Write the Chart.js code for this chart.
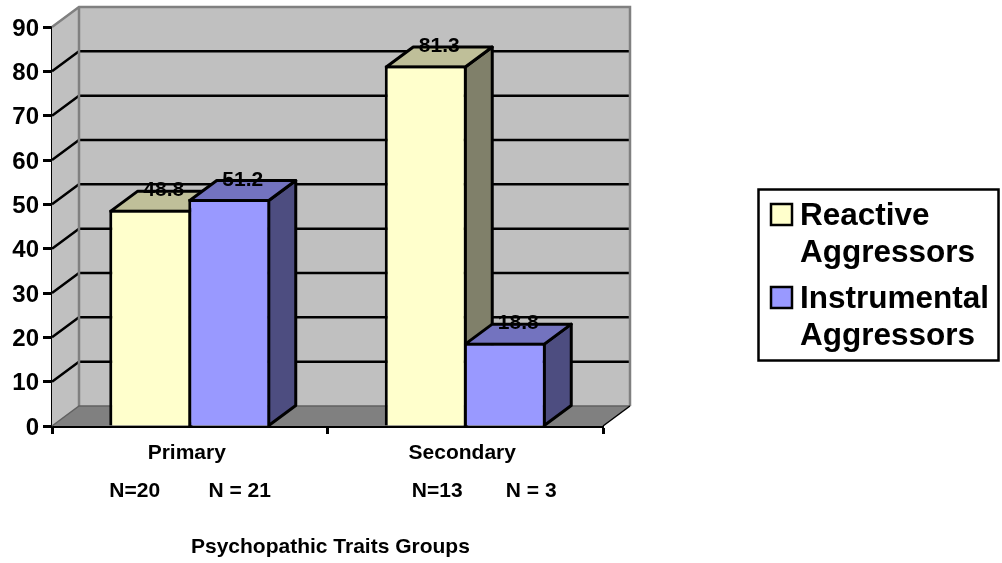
<!DOCTYPE html>
<html><head><meta charset="utf-8">
<style>html,body{margin:0;padding:0;background:#fff}canvas{display:block}</style>
<script src="https://cdn.jsdelivr.net/npm/chart.js@4"></script>
</head><body><canvas id="c" width="1002" height="563"></canvas>
<script>
const categories = ['Primary', 'Secondary'];
const reactive = [48.8, 81.3];
const instrumental = [51.2, 18.8];
const groupSizes = [['N=20', 'N = 21'], ['N=13', 'N = 3']];
const yTicks = [0, 10, 20, 30, 40, 50, 60, 70, 80, 90];
const seriesNames = ['Reactive Aggressors', 'Instrumental Aggressors'];
const axisTitle = ' Psychopathic Traits Groups';

const FONT = '"Liberation Sans", Arial, sans-serif';
const DX = 27, DY = 20;
const shades = [
  {front:'#FFFFCC', top:'#BFBF99', side:'#80806A'},
  {front:'#9999FF', top:'#7373BF', side:'#4D4D80'}
];

function poly(ctx, pts, fill, stroke, w){
  ctx.beginPath();
  pts.forEach((p,i)=> i ? ctx.lineTo(p[0],p[1]) : ctx.moveTo(p[0],p[1]));
  ctx.closePath();
  if(fill){ctx.fillStyle=fill;ctx.fill();}
  if(stroke){ctx.strokeStyle=stroke;ctx.lineWidth=w;ctx.lineJoin='round';ctx.stroke();}
}

const box3d = {
  id:'box3d',
  beforeDatasetsDraw(chart){
    const {ctx, scales:{x,y}} = chart;
    const L=x.left,R=x.right,B=y.getPixelForValue(0),T=y.getPixelForValue(90);
    ctx.save();
    poly(ctx,[[L,B],[L+DX,B-DY],[L+DX,T-DY],[L,T]],'#C0C0C0');
    poly(ctx,[[L+DX,B-DY],[R+DX,B-DY],[R+DX,T-DY],[L+DX,T-DY]],'#C0C0C0');
    poly(ctx,[[L,B],[L+DX,B-DY],[R+DX,B-DY],[R,B]],'#808080');
    ctx.strokeStyle='#000';ctx.lineWidth=2.5;
    yTicks.slice(1,-1).forEach(v=>{
      const p=y.getPixelForValue(v);
      ctx.beginPath();ctx.moveTo(L,p);ctx.lineTo(L+DX,p-DY);ctx.lineTo(R+DX,p-DY);ctx.stroke();
    });
    ctx.strokeStyle='#808080';ctx.lineWidth=2.5;
    ctx.beginPath();
    ctx.moveTo(L,T);ctx.lineTo(L+DX,T-DY);ctx.lineTo(R+DX,T-DY);ctx.lineTo(R+DX,B-DY);
    ctx.moveTo(L+DX,T-DY);ctx.lineTo(L+DX,B-DY);ctx.stroke();
    ctx.strokeStyle='#606060';ctx.lineWidth=1.5;
    ctx.beginPath();ctx.moveTo(L,B);ctx.lineTo(L+DX,B-DY);ctx.lineTo(R+DX,B-DY);ctx.stroke();
    ctx.strokeStyle='#000';ctx.lineWidth=1.5;
    ctx.beginPath();ctx.moveTo(R,B);ctx.lineTo(R+DX,B-DY);ctx.stroke();
    categories.forEach((_,i)=>{
      [0,1].forEach(d=>{
        const el=chart.getDatasetMeta(d).data[i];
        const l=el.x-el.width/2+1.5,r=el.x+el.width/2-1.5,t=el.y+1.5,b=el.base;
        poly(ctx,[[r,t],[r+DX,t-DY],[r+DX,b-DY],[r,b]],shades[d].side,'#000',3);
        poly(ctx,[[l,t],[l+DX,t-DY],[r+DX,t-DY],[r,t]],shades[d].top,'#000',3);
      });
    });
    ctx.restore();
  },
  afterDatasetsDraw(chart){
    const {ctx, scales:{x,y}} = chart;
    ctx.save();
    ctx.fillStyle='#000';ctx.textAlign='center';ctx.textBaseline='middle';
    ctx.font='bold 21px '+FONT;
    [0,1].forEach(d=>{
      chart.getDatasetMeta(d).data.forEach((el,i)=>{
        ctx.fillText(chart.data.datasets[d].data[i].toFixed(1), el.x+DX/2, el.y-DY+1);
      });
    });
    const rowY=y.getPixelForValue(0)+65;
    const off=[[-55,50],[-28,66]];
    categories.forEach((_,i)=>{
      const c=x.getPixelForValue(i);
      groupSizes[i].forEach((t,j)=>ctx.fillText(t,c+off[i][j],rowY));
    });
    const lx=758.5,ly=189.5,lw=240,lh=171;
    ctx.fillStyle='#fff';ctx.fillRect(lx,ly,lw,lh);
    ctx.strokeStyle='#000';ctx.lineWidth=2.5;ctx.strokeRect(lx,ly,lw,lh);
    ctx.font='bold 31.5px '+FONT;ctx.textAlign='left';ctx.textBaseline='alphabetic';
    const baselines=[225,308];
    seriesNames.forEach((n,i)=>{
      const b=baselines[i];
      ctx.fillStyle=shades[i].front;ctx.fillRect(771,b-21,21,21);
      ctx.strokeStyle='#000';ctx.lineWidth=2.5;ctx.strokeRect(771,b-21,21,21);
      ctx.fillStyle='#000';
      const parts=n.split(' ');
      ctx.fillText(parts[0],800,b);
      ctx.fillText(parts[1],800,b+37);
    });
    ctx.restore();
  }
};

new Chart(document.getElementById('c'),{
  type:'bar',
  data:{labels:categories,datasets:[
    {label:seriesNames[0],data:reactive,backgroundColor:shades[0].front,borderColor:'#000',borderWidth:3,borderSkipped:'bottom'},
    {label:seriesNames[1],data:instrumental,backgroundColor:shades[1].front,borderColor:'#000',borderWidth:3,borderSkipped:'bottom'}
  ]},
  options:{
    responsive:false,animation:false,
    layout:{padding:{left:0,right:399,top:27,bottom:0}},
    datasets:{bar:{barPercentage:1.038,categoryPercentage:0.5735}},
    plugins:{legend:{display:false},title:{display:false},tooltip:{enabled:false}},
    scales:{
      x:{
        z:1,
        afterFit(s){s.height=137;},
        border:{display:true,color:'#000',width:3},
        grid:{display:true,drawOnChartArea:false,drawTicks:true,tickLength:8,tickColor:'#000',tickWidth:3,offset:true},
        ticks:{color:'#000',font:{family:FONT,size:21,weight:'bold'},padding:7,labelOffset:-3,maxRotation:0},
        title:{display:true,text:axisTitle,color:'#000',font:{family:FONT,size:21,weight:'bold'},padding:{top:0,bottom:3}}
      },
      y:{
        afterFit(s){s.width=52;},
        min:0,max:90,
        afterBuildTicks(s){s.ticks=yTicks.map(v=>({value:v}));},
        border:{display:true,color:'#000',width:3},
        grid:{display:true,drawOnChartArea:false,drawTicks:true,tickLength:9,tickColor:'#000',tickWidth:3},
        ticks:{color:'#000',font:{family:FONT,size:24,weight:'bold'},padding:4,labelOffset:2}
      }
    }
  },
  plugins:[box3d]
});
</script></body></html>
